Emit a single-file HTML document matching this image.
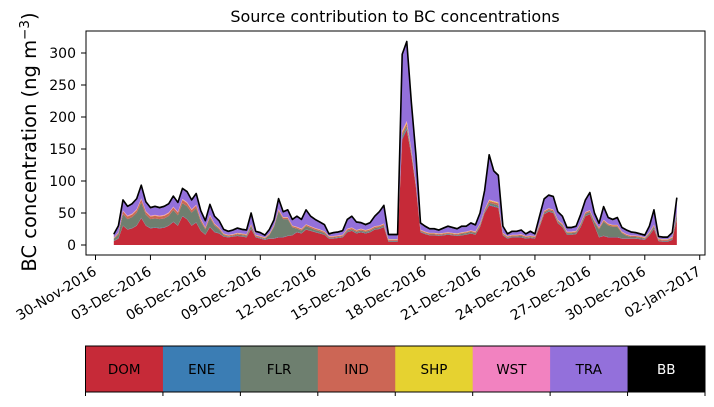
<!DOCTYPE html>
<html><head><meta charset="utf-8"><style>
body{margin:0;background:#fff;}
svg text{font-family:"DejaVu Sans","Liberation Sans",sans-serif;}
</style></head><body>
<svg id="c" width="714" height="402" viewBox="0 0 714 402" xmlns="http://www.w3.org/2000/svg">
<text x="395" y="22" font-size="16" text-anchor="middle">Source contribution to BC concentrations</text>
<text transform="translate(36,142) rotate(-90)" font-size="19.5" text-anchor="middle">BC concentration (ng m<tspan dy="-7" font-size="13.5">−3</tspan><tspan dy="7">)</tspan></text>
<g id="stack"></g>
<g id="axes"></g>
<g id="legend"></g>
</svg>
<script>
const startDay = 1.0, stepDay = 0.25;
const DOM = [6,10,30,24,26,30,42,30,26,27,26,27,30,36,30,45,40,30,35,22,16,28,20,18,13,12,13,14,13,12,25,12,10,8,10,10,12,12,14,15,20,18,24,22,20,18,16,10,10,11,12,20,22,18,20,18,20,24,25,28,5,5,5,165,180,140,90,20,17,15,15,14,15,16,15,14,15,16,18,16,28,50,62,60,58,15,10,12,12,12,10,11,10,28,48,52,50,34,28,16,16,17,28,45,48,30,12,14,12,12,12,10,10,10,10,9,8,15,25,6,5,5,8,40];
const FLR = [3,6,18,16,17,20,24,17,14,14,14,14,15,18,16,20,20,20,22,14,8,14,10,6,2,1,1,2,2,2,4,1,1,1,5,18,40,28,26,12,5,4,5,4,3,3,2,1,1,1,1,2,2,2,2,2,2,2,2,2,1,1,1,4,4,3,2,1,1,1,1,1,1,1,1,1,2,2,2,2,2,2,3,3,3,1,1,1,1,2,1,1,1,2,2,2,2,2,2,2,2,2,3,3,3,5,12,22,18,16,16,8,4,2,2,2,1,2,3,1,1,1,2,8];
const TRA = [4,9,15,13,14,15,19,13,11,12,11,12,12,15,13,15,15,13,16,11,9,15,10,9,5,4,5,6,5,5,16,4,4,2,5,7,15,7,10,8,15,13,21,14,12,10,9,2,4,4,5,13,16,11,8,7,8,14,20,27,6,6,6,116,121,71,42,9,7,5,5,4,6,8,7,6,8,7,10,9,15,28,68,45,40,9,2,4,4,5,2,5,2,10,17,19,19,11,10,5,5,6,12,17,26,10,5,19,8,7,10,5,5,4,3,2,2,8,22,2,2,2,5,21];
const IND = [1,2,4,4,4,4,5,4,4,4,4,4,4,4,4,5,5,4,4,3,2,3,2,2,1.5,1.5,1.5,1.5,1.5,1.5,2,1.5,1.5,1.5,1.5,1.5,2,2,2,2,2,2,2,2,2,2,2,1.5,1.5,1.5,1.5,2,2,2,2,2,2,2,2,2,1.5,1.5,1.5,4,4,3,2,1.5,1.5,1.5,1.5,1.5,1.5,1.5,1.5,1.5,1.5,1.5,1.5,1.5,2,2,3,3,3,1.5,1.5,1.5,1.5,1.5,1.5,1.5,1.5,2,2,2,2,2,2,1.5,1.5,1.5,2,2,2,2,2,2,2,2,2,1.5,1.5,1.5,1.5,1.5,1.5,1.5,2,1.5,1.5,1.5,1.5,2];
const ENE = [0.5,0.5,0.5,0.5,0.5,0.5,0.5,0.5,0.5,0.5, 0.5,0.5,0.5,0.5,0.5,0.5,0.5,0.5,0.5,0.5, 0.5,0.5,0.5,0.5,0.5,0.5,0.5,0.5,0.5,0.5, 0.5,0.5,0.5,0.5,0.5,0.5,0.5,0.5,0.5,0.5, 0.5,0.5,0.5,0.5,0.5,0.5,0.5,0.5,0.5,0.5, 0.5,0.5,0.5,0.5,0.5,0.5,0.5,0.5,0.5,0.5, 0.5,0.5,0.5,2,2,1.5,1,0.5,0.5,0.5, 0.5,0.5,0.5,0.5,0.5,0.5,0.5,0.5,0.5,0.5, 0.5,0.5,1,1,1,0.5,0.5,0.5,0.5,0.5, 0.5,0.5,0.5,0.5,0.5,0.5,0.5,0.5,0.5,0.5, 0.5,0.5,0.5,0.5,0.5,0.5,0.5,0.5,0.5,0.5, 0.5,0.5,0.5,0.5,0.5,0.5,0.5,0.5,0.5,0.5, 0.5,0.5,0.5,0.5];
const SHP = [0.5,0.5,0.5,0.5,0.5,0.5,0.5,0.5,0.5,0.5, 0.5,0.5,0.5,0.5,0.5,0.5,0.5,0.5,0.5,0.5, 0.5,0.5,0.5,0.5,0.5,0.5,0.5,0.5,0.5,0.5, 0.5,0.5,0.5,0.5,0.5,0.5,0.5,0.5,0.5,0.5, 0.5,0.5,0.5,0.5,0.5,0.5,0.5,0.5,0.5,0.5, 0.5,0.5,0.5,0.5,0.5,0.5,0.5,0.5,0.5,0.5, 0.5,0.5,0.5,2,2,1,1,0.5,0.5,0.5, 0.5,0.5,0.5,0.5,0.5,0.5,0.5,0.5,0.5,0.5, 0.5,0.5,1,1,1,0.5,0.5,0.5,0.5,0.5, 0.5,0.5,0.5,0.5,0.5,0.5,0.5,0.5,0.5,0.5, 0.5,0.5,0.5,0.5,0.5,0.5,0.5,0.5,0.5,0.5, 0.5,0.5,0.5,0.5,0.5,0.5,0.5,0.5,0.5,0.5, 0.5,0.5,0.5,0.5];
const WST = [0.5,0.5,1,1,1,1,1,1,1,1, 1,1,1,1,1,1,1,1,1,1, 0.5,1,0.5,0.5,0.5,0.5,0.5,0.5,0.5,0.5, 0.5,0.5,0.5,0.5,0.5,0.5,1,0.5,0.5,0.5, 0.5,0.5,0.5,0.5,0.5,0.5,0.5,0.5,0.5,0.5, 0.5,0.5,0.5,0.5,0.5,0.5,0.5,0.5,0.5,0.5, 0.5,0.5,0.5,2,2,1.5,1,0.5,0.5,0.5, 0.5,0.5,0.5,0.5,0.5,0.5,0.5,0.5,0.5,0.5, 0.5,0.5,1,1,1,0.5,0.5,0.5,0.5,0.5, 0.5,0.5,0.5,0.5,0.5,0.5,0.5,0.5,0.5,0.5, 0.5,0.5,0.5,0.5,0.5,0.5,0.5,0.5,0.5,0.5, 0.5,0.5,0.5,0.5,0.5,0.5,0.5,0.5,0.5,0.5, 0.5,0.5,0.5,0.5];
const BB = [1.5,1.5,1.5,1.5,1.5,1.5,1.5,1.5,1.5,1.5, 1.5,1.5,1.5,1.5,1.5,1.5,1.5,1.5,1.5,1.5, 1.5,1.5,1.5,1.5,1.5,1.5,1.5,1.5,1.5,1.5, 1.5,1.5,1.5,1.5,1.5,1.5,1.5,1.5,1.5,1.5, 1.5,1.5,1.5,1.5,1.5,1.5,1.5,1.5,1.5,1.5, 1.5,1.5,1.5,1.5,1.5,1.5,1.5,1.5,1.5,1.5, 1.5,1.5,1.5,3,3,2,2,1.5,1.5,1.5, 1.5,1.5,1.5,1.5,1.5,1.5,1.5,1.5,1.5,1.5, 1.5,1.5,2,2,2,1.5,1.5,1.5,1.5,1.5, 1.5,1.5,1.5,1.5,1.5,1.5,1.5,1.5,1.5,1.5, 1.5,1.5,1.5,1.5,1.5,1.5,1.5,1.5,1.5,1.5, 1.5,1.5,1.5,1.5,1.5,1.5,1.5,1.5,1.5,1.5, 1.5,1.5,1.5,1.5];
const seriesNames = ["DOM","ENE","FLR","IND","SHP","WST","TRA","BB"];
const seriesColors = ["#c62a38","#3b7db4","#6e7f6f","#cc6655","#e6d230","#f282c0","#9370db","#000000"];
const yTicks = [0,50,100,150,200,250,300];
const xTickLabels = ["30-Nov-2016","03-Dec-2016","06-Dec-2016","09-Dec-2016","12-Dec-2016","15-Dec-2016","18-Dec-2016","21-Dec-2016","24-Dec-2016","27-Dec-2016","30-Dec-2016","02-Jan-2017"];
const xTickDays = [0,3,6,9,12,15,18,21,24,27,30,33];

const NS="http://www.w3.org/2000/svg";
const L=86,R=705,T=31,B=255;
const xS=d=>95.5+d*18.31;
const yS=v=>245-v*0.64;
function mk(tag,attrs,parent){const e=document.createElementNS(NS,tag);for(const k in attrs)e.setAttribute(k,attrs[k]);parent.appendChild(e);return e;}
const all=[DOM,ENE,FLR,IND,SHP,WST,TRA,BB];
const n=DOM.length;
const val=(s,i)=>{const v=s[i];return (typeof v==="number"&&isFinite(v))?v:0;};
const base=new Array(n).fill(0);
const stack=document.getElementById('stack');
all.forEach((s,k)=>{
  const top=base.map((b,i)=>b+val(s,i));
  let d="";
  for(let i=0;i<n;i++){d+=(i?"L":"M")+xS(startDay+i*stepDay).toFixed(2)+","+yS(top[i]).toFixed(2);}
  for(let i=n-1;i>=0;i--){d+="L"+xS(startDay+i*stepDay).toFixed(2)+","+yS(base[i]).toFixed(2);}
  const p=mk('path',{d:d+"Z",fill:seriesColors[k],stroke:"none"},stack);
  
  
  for(let i=0;i<n;i++)base[i]=top[i];
});
let ld="";
for(let i=0;i<n;i++){ld+=(i?"L":"M")+xS(startDay+i*stepDay).toFixed(2)+","+yS(base[i]).toFixed(2);}
const tl=mk('path',{d:ld,fill:"none",stroke:"#000","stroke-width":1.6,"stroke-linejoin":"round"},stack);



const ax=document.getElementById('axes');
const fr=mk('rect',{x:L,y:T,width:R-L,height:B-T,fill:"none",stroke:"#000","stroke-width":1},ax);


yTicks.forEach(v=>{
  const y=yS(v);
  mk('line',{x1:L-5,x2:L,y1:y,y2:y,stroke:"#000"},ax);
  const t=mk('text',{x:L-10,y:y+5,"font-size":14,"text-anchor":"end"},ax);
  t.textContent=v;
  
  
});
xTickDays.forEach((d,i)=>{
  const x=xS(d);
  mk('line',{x1:x,x2:x,y1:B,y2:B+5,stroke:"#000"},ax);
  const t=mk('text',{x:0,y:0,"font-size":14,"text-anchor":"end",transform:`translate(${x+2},${B+19}) rotate(-31)`},ax);
  t.textContent=xTickLabels[i];
  
  
});

const lg=document.getElementById('legend');
const cL=85.5,cR=705,cT=346,cB=392,cw=(cR-cL)/8;
seriesNames.forEach((nm,k)=>{
  const r=mk('rect',{x:cL+k*cw,y:cT,width:cw+0.5,height:cB-cT,fill:seriesColors[k]},lg);
  
  
  const t=mk('text',{x:cL+k*cw+cw/2,y:(cT+cB)/2+5,"font-size":13.5,"text-anchor":"middle",fill:nm==="BB"?"#fff":"#000"},lg);
  t.textContent=nm;
  
  
});
mk('rect',{x:cL,y:cT,width:cR-cL,height:cB-cT,fill:"none",stroke:"#000","stroke-width":1},lg);
for(let k=0;k<=8;k++){const x=cL+k*cw;mk('line',{x1:x,x2:x,y1:cB,y2:cB+4,stroke:"#000"},lg);}
</script>
</body></html>
